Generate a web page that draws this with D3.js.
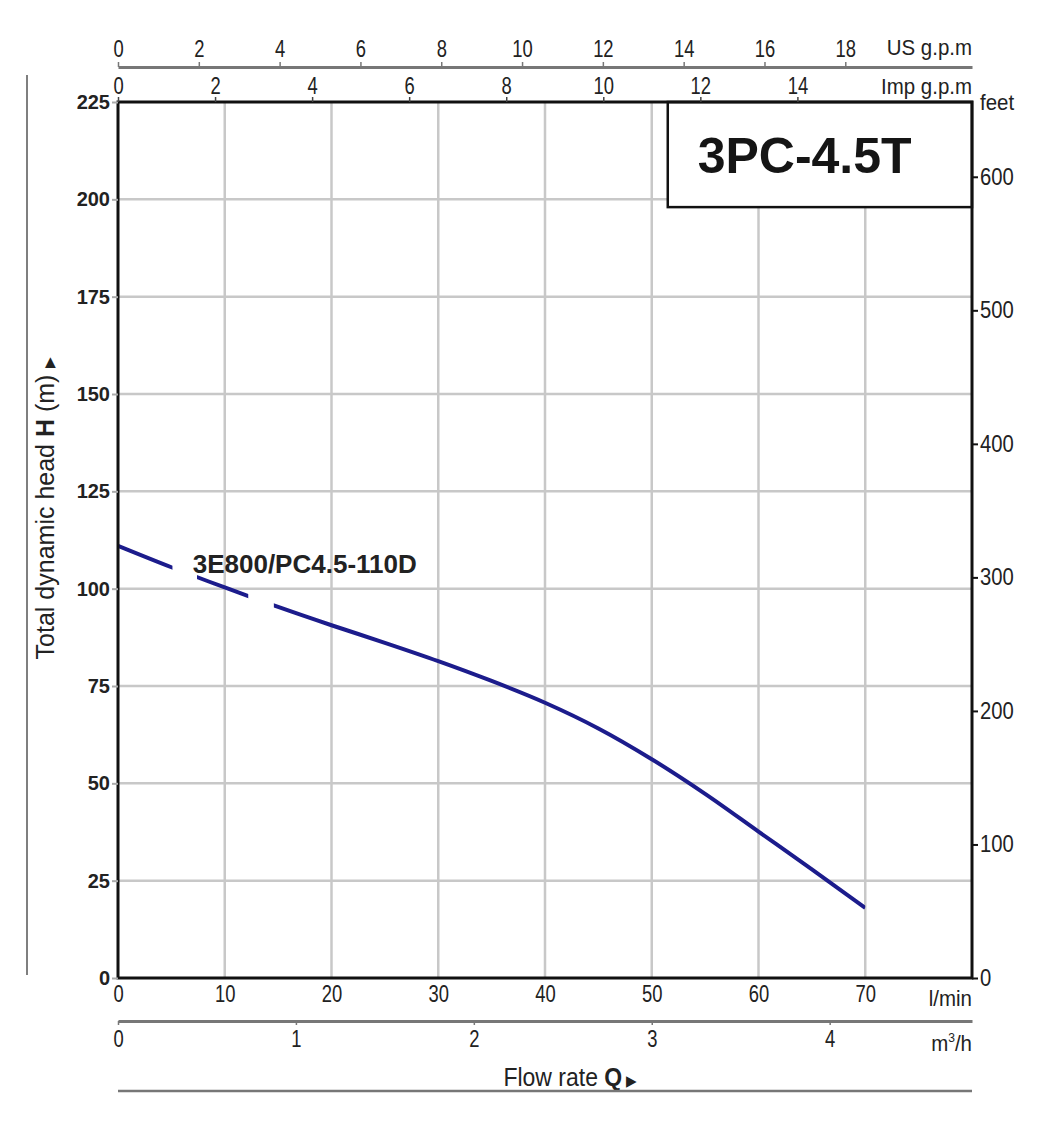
<!DOCTYPE html>
<head>
  <meta charset="utf-8">
  <title>3PC-4.5T</title>
  <script src="https://cdn.jsdelivr.net/npm/d3@7"></script>
</head>

<style>
  body {
    margin: 0;
    background: #fff;
  }

  svg text {
    font-family: "Liberation Sans", Arial, sans-serif;
    fill: #222;
  }

  .grid line {
    stroke: #c8c8c8;
    stroke-width: 2.5;
  }

  .ax-gray .domain {
    stroke: #777;
    stroke-width: 3;
  }

  .ax-gray .tick line {
    stroke: #777;
    stroke-width: 1.5;
  }

  .ax text {
    font-size: 23px;
  }

  .ax-left text {
    font-weight: bold;
    font-size: 20px;
  }

  .ax-left .domain { display: none; }
  .ax-left .tick line { stroke: #aaa; stroke-width: 2; }

  .ax-right .domain { display: none; }
  .ax-right .tick line { stroke: #111; stroke-width: 2; }

  .ax-top2 .domain, .ax-bot1 .domain { display: none; }
  .ax-top2 .tick line { stroke: #444; stroke-width: 1.5; }
  .ax-bot1 .tick line { display: none; }

  .unit {
    font-size: 22px;
  }

  .curve {
    fill: none;
    stroke: #1c1c8c;
    stroke-width: 4;
  }
</style>

<body>
  <svg id='svg-chart'></svg>
</body>

<script>

var width = 1054,
    height = 1125,
    plot = {left: 118, right: 972, top: 102, bottom: 978},
    narrow = 0.8,
    unit_narrow = 0.93;

// pump curve: flow (l/min) -> head (m)
var flow_lmin = [0, 5, 10, 15, 20, 25, 30, 35, 40, 45, 50, 55, 60, 65, 70];
var head_m = [111, 105.5, 100.3, 95.3, 90.6, 86.1, 81.4, 76.3, 70.7, 64.1, 56.2, 47.3, 37.6, 27.9, 18];

// pieces of the curve that are drawn (gaps leave room for the label)
var curve_pieces = [[0, 5.1], [7.4, 12.2], [14.6, 70]];

var lmin_ticks = [0, 10, 20, 30, 40, 50, 60, 70];
var head_ticks = [0, 25, 50, 75, 100, 125, 150, 175, 200, 225];
var feet_ticks = [0, 100, 200, 300, 400, 500, 600];
var usgpm_ticks = [0, 2, 4, 6, 8, 10, 12, 14, 16, 18];
var impgpm_ticks = [0, 2, 4, 6, 8, 10, 12, 14];
var m3h_ticks = [0, 1, 2, 3, 4];

var curve_label = '3E800/PC4.5-110D',
    model_name = '3PC-4.5T';

var svg = d3.select('#svg-chart')
  .attr('width', width)
  .attr('height', height);

var x = d3.scaleLinear().domain([0, 80]).range([plot.left, plot.right]);
var y = d3.scaleLinear().domain([0, 225]).range([plot.bottom, plot.top]);
var y_feet = d3.scaleLinear().domain([0, 656]).range([plot.bottom, plot.top]);
var x_us = d3.scaleLinear().domain([0, 80 / 3.785]).range([plot.left, plot.right]);
var x_imp = d3.scaleLinear().domain([0, 80 / 4.546]).range([plot.left, plot.right]);
var x_m3h = d3.scaleLinear().domain([0, 80 * 0.06]).range([plot.left, plot.right]);

// grid
var grid = svg.append('g').attr('class', 'grid');
grid.selectAll('.gx')
  .data(lmin_ticks.slice(1))
  .enter().append('line')
  .attr('x1', function(d) { return x(d); })
  .attr('x2', function(d) { return x(d); })
  .attr('y1', plot.top)
  .attr('y2', plot.bottom);
grid.selectAll('.gy')
  .data(head_ticks.slice(1, -1))
  .enter().append('line')
  .attr('x1', plot.left)
  .attr('x2', plot.right)
  .attr('y1', function(d) { return y(d); })
  .attr('y2', function(d) { return y(d); });

// model box
svg.append('rect')
  .attr('x', x(51.5))
  .attr('y', plot.top)
  .attr('width', plot.right - x(51.5))
  .attr('height', y(198) - plot.top)
  .attr('fill', '#fff')
  .attr('stroke', '#111')
  .attr('stroke-width', 2.5);

svg.append('text')
  .attr('x', x(54.3))
  .attr('y', (plot.top + y(198)) / 2)
  .attr('dy', '0.36em')
  .style('font-weight', 'bold')
  .style('font-size', '50px')
  .style('fill', '#151515')
  .text(model_name);

// curve
var clip = svg.append('clipPath').attr('id', 'curve-clip');
clip.selectAll('rect')
  .data(curve_pieces)
  .enter().append('rect')
  .attr('x', function(d) { return x(d[0]); })
  .attr('width', function(d) { return x(d[1]) - x(d[0]); })
  .attr('y', plot.top)
  .attr('height', plot.bottom - plot.top);

var line = d3.line()
  .x(function(d) { return x(d[0]); })
  .y(function(d) { return y(d[1]); })
  .curve(d3.curveCatmullRom);

svg.append('path')
  .attr('class', 'curve')
  .attr('clip-path', 'url(#curve-clip)')
  .attr('d', line(d3.zip(flow_lmin, head_m)));

svg.append('text')
  .attr('x', x(7))
  .attr('y', y(104))
  .style('font-size', '26px')
  .style('font-weight', 'bold')
  .style('fill', '#222')
  .text(curve_label);

// plot frame
svg.append('rect')
  .attr('x', plot.left)
  .attr('y', plot.top)
  .attr('width', plot.right - plot.left)
  .attr('height', plot.bottom - plot.top)
  .attr('fill', 'none')
  .attr('stroke', '#111')
  .attr('stroke-width', 3);

function squeeze(g) {
  g.selectAll('.tick text').attr('transform', 'scale(' + narrow + ',1)');
}

function unit_label(tx, ty, anchor) {
  return svg.append('text')
    .attr('class', 'unit')
    .attr('text-anchor', anchor)
    .attr('transform', 'translate(' + tx + ',' + ty + ') scale(' + unit_narrow + ',1)');
}

// left axis (m)
svg.append('g')
  .attr('class', 'ax ax-left')
  .attr('transform', 'translate(' + plot.left + ',0)')
  .call(d3.axisLeft(y).tickValues(head_ticks).tickSize(6).tickPadding(2));

// right axis (feet)
svg.append('g')
  .attr('class', 'ax ax-right')
  .attr('transform', 'translate(' + plot.right + ',0)')
  .call(d3.axisRight(y_feet).tickValues(feet_ticks).tickSize(6).tickPadding(2))
  .call(function(g) {
    g.selectAll('.tick text').attr('x', 0).attr('transform', 'translate(8,0) scale(0.88,1)');
  });

unit_label(plot.right + 8, plot.top + 8, 'start').text('feet');

// top axes
svg.append('g')
  .attr('class', 'ax ax-gray')
  .attr('transform', 'translate(0,67)')
  .call(d3.axisTop(x_us).tickValues(usgpm_ticks).tickSize(5).tickSizeOuter(0).tickPadding(5))
  .call(squeeze);

unit_label(plot.right, 55, 'end').text('US g.p.m');

svg.append('g')
  .attr('class', 'ax ax-top2')
  .attr('transform', 'translate(0,' + plot.top + ')')
  .call(d3.axisTop(x_imp).tickValues(impgpm_ticks).tickSize(5).tickPadding(3))
  .call(squeeze);

unit_label(plot.right, 94, 'end').text('Imp g.p.m');

// bottom axes
svg.append('g')
  .attr('class', 'ax ax-bot1')
  .attr('transform', 'translate(0,' + plot.bottom + ')')
  .call(d3.axisBottom(x).tickValues(lmin_ticks).tickSize(0).tickPadding(8))
  .call(squeeze);

unit_label(plot.right, 1006, 'end').text('l/min');

svg.append('g')
  .attr('class', 'ax ax-gray')
  .attr('transform', 'translate(0,1021)')
  .call(d3.axisBottom(x_m3h).tickValues(m3h_ticks).tickFormat(d3.format('d'))
    .tickSize(4).tickSizeOuter(0).tickPadding(6))
  .call(squeeze);

var m3 = unit_label(plot.right, 1051, 'end');
m3.append('tspan').text('m');
m3.append('tspan').attr('dy', -9).style('font-size', '13px').text('3');
m3.append('tspan').attr('dy', 9).text('/h');

var qlab = svg.append('text')
  .attr('text-anchor', 'middle')
  .attr('transform', 'translate(570,1086) scale(0.92,1)')
  .style('font-size', '25px');
qlab.append('tspan').text('Flow  rate  ');
qlab.append('tspan').style('font-weight', 'bold').text('Q');
qlab.append('tspan').style('font-size', '15px').text(' \u25B6');

svg.append('line')
  .attr('x1', plot.left)
  .attr('x2', plot.right)
  .attr('y1', 1091)
  .attr('y2', 1091)
  .attr('stroke', '#777')
  .attr('stroke-width', 2.5);

// left label
svg.append('line')
  .attr('x1', 27)
  .attr('x2', 27)
  .attr('y1', 75)
  .attr('y2', 975)
  .attr('stroke', '#555')
  .attr('stroke-width', 1.5);

var ylab = svg.append('text')
  .attr('transform', 'translate(54,508) rotate(-90)')
  .attr('text-anchor', 'middle')
  .style('font-size', '25px');
ylab.append('tspan').text('Total dynamic head ');
ylab.append('tspan').style('font-weight', 'bold').text('H');
ylab.append('tspan').text(' (m)  ');
ylab.append('tspan').style('font-size', '14px').text('\u25B6');

</script>
